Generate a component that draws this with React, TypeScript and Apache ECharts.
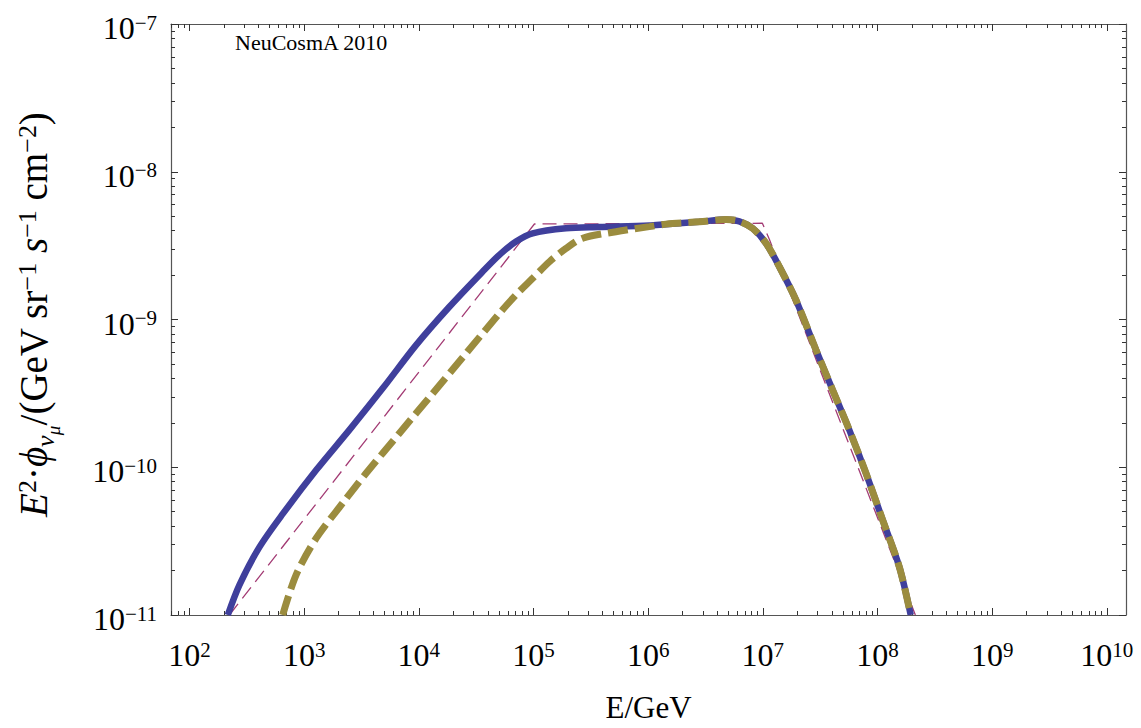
import React, { useEffect, useRef } from "react";
import * as echarts from "echarts";

// ---- data ----
const energyBlue = [215.8, 272.9, 407.4, 650.1, 1274, 2483, 4842, 9462, 18490, 36060, 50470, 70470, 98400, 192300, 375800, 1.023e6, 1.432e6, 2.793e6, 4.775e6, 6.237e6, 8.147e6, 1.067e7, 1.393e7, 1.945e7, 2.911e7, 4.064e7, 5.675e7, 7.943e7, 1.109e8, 1.549e8, 1.95e8];
const fluxBlue = [1.0e-11, 1.6e-11, 2.88e-11, 4.83e-11, 9.57e-11, 1.79e-10, 3.42e-10, 6.71e-10, 1.22e-9, 2.11e-9, 2.74e-9, 3.37e-9, 3.83e-9, 4.14e-9, 4.22e-9, 4.33e-9, 4.42e-9, 4.58e-9, 4.75e-9, 4.62e-9, 4.14e-9, 3.28e-9, 2.28e-9, 1.355e-9, 6.22e-10, 3.33e-10, 1.79e-10, 9.1e-11, 4.4e-11, 2.12e-11, 1.0e-11];

const energyOlive = [650.1, 851.1, 1274, 2173, 3467, 6776, 13210, 25820, 50470, 70470, 98400, 137700, 192300, 268500, 523600, 1.023e6, 1.432e6, 2.793e6, 4.775e6, 6.237e6, 8.147e6, 1.067e7, 1.393e7, 1.945e7, 2.911e7, 4.064e7, 5.675e7, 7.943e7, 1.109e8, 1.549e8, 1.95e8];
const fluxOlive = [1.0e-11, 1.87e-11, 3.31e-11, 5.73e-11, 9.1e-11, 1.7e-10, 3.16e-10, 5.9e-10, 1.1e-9, 1.47e-9, 1.9e-9, 2.46e-9, 3.03e-9, 3.55e-9, 3.93e-9, 4.25e-9, 4.42e-9, 4.58e-9, 4.75e-9, 4.62e-9, 4.14e-9, 3.28e-9, 2.28e-9, 1.355e-9, 6.22e-10, 3.33e-10, 1.79e-10, 9.1e-11, 4.4e-11, 2.12e-11, 1.0e-11];

const energyThin = [223, 1.019e5, 9.91e6, 1.14e7, 2.14e8];
const fluxThin = [1.0e-11, 4.43e-9, 4.48e-9, 3.49e-9, 1.0e-11];

const xTickExponents = [2, 3, 4, 5, 6, 7, 8, 9, 10];
const yTickExponents = [-11, -10, -9, -8, -7];

const X_MIN = 69;
const X_MAX = 1.47e10;
const Y_MIN = 1e-11;
const Y_MAX = 1e-7;

const FONT = "Liberation Serif";

const xMajor = xTickExponents.map((n) => Math.pow(10, n));
const yMajor = yTickExponents.map((n) => Math.pow(10, n));
const minorsBetween = (lo: number, hi: number, min: number, max: number) => {
  const out: number[] = [];
  for (let n = lo; n <= hi; n++) {
    for (let k = 2; k <= 9; k++) {
      const v = k * Math.pow(10, n);
      if (v > min && v < max) out.push(v);
    }
  }
  return out;
};
const xMinor = minorsBetween(1, 10, X_MIN, X_MAX);
const yMinor = minorsBetween(-12, -8, Y_MIN, Y_MAX);

const powLabel = (v: number) => {
  const n = Math.round(Math.log10(v));
  const s = n < 0 ? "\u2212" + -n : String(n);
  return `{m|10}{s|${s}}`;
};

const labelRich = {
  m: { fontFamily: FONT, fontSize: 32, lineHeight: 32, color: "#000" },
  s: { fontFamily: FONT, fontSize: 21, lineHeight: 21, verticalAlign: "top", color: "#000" },
};

const AXIS_COLOR = "#555";

function xAxisDef(position: "bottom" | "top", ticks: number[], len: number, withLine: boolean, withLabels: boolean, extra: any = {}) {
  return {
    type: "log",
    logBase: 10,
    min: X_MIN,
    max: X_MAX,
    position,
    axisLine: { show: withLine, onZero: false, lineStyle: { color: AXIS_COLOR, width: 1.2 } },
    axisTick: { show: true, inside: true, length: len, customValues: ticks, lineStyle: { color: "#333", width: 1 } },
    axisLabel: withLabels
      ? { show: true, customValues: ticks, formatter: powLabel, margin: 24, rich: labelRich, fontFamily: FONT, fontSize: 32, color: "#000" }
      : { show: false },
    splitLine: { show: false },
    minorTick: { show: false },
    ...extra,
  };
}

function yAxisDef(position: "left" | "right", ticks: number[], len: number, withLine: boolean, withLabels: boolean, extra: any = {}) {
  return {
    type: "log",
    logBase: 10,
    min: Y_MIN,
    max: Y_MAX,
    position,
    axisLine: { show: withLine, onZero: false, lineStyle: { color: AXIS_COLOR, width: 1.2 } },
    axisTick: { show: true, inside: true, length: len, customValues: ticks, lineStyle: { color: "#333", width: 1 } },
    axisLabel: withLabels
      ? { show: true, customValues: ticks, formatter: powLabel, margin: 14, padding: [8, 0, 0, 0], rich: labelRich, fontFamily: FONT, fontSize: 32, color: "#000" }
      : { show: false },
    splitLine: { show: false },
    minorTick: { show: false },
    ...extra,
  };
}

const pairs = (xs: number[], ys: number[]) => xs.map((x, i) => [x, ys[i]]);

export default function App() {
  const ref = useRef<HTMLDivElement>(null);
  useEffect(() => {
    if (!ref.current) return;
    const chart = echarts.init(ref.current, undefined, { renderer: "svg" });
    const titleRich: any = {
      r: { fontFamily: FONT, fontSize: 39, lineHeight: 39, verticalAlign: "top", color: "#000" },
      i: { fontFamily: FONT, fontSize: 39, lineHeight: 39, verticalAlign: "top", fontStyle: "italic", color: "#000" },
      sup: { fontFamily: FONT, fontSize: 26, lineHeight: 26, verticalAlign: "top", color: "#000" },
      sub: { fontFamily: FONT, fontSize: 26, lineHeight: 26, verticalAlign: "top", fontStyle: "italic", padding: [18, 0, 0, 0], color: "#000" },
      ss: { fontFamily: FONT, fontSize: 19, lineHeight: 19, verticalAlign: "top", fontStyle: "italic", padding: [30, 0, 0, 0], color: "#000" },
    };
    const option: any = {
      animation: false,
      backgroundColor: "#fff",
      grid: { left: 171, right: 15, top: 24, bottom: 113, containLabel: false, outerBoundsMode: "none" },
      xAxis: [
        xAxisDef("bottom", xMajor, 7, true, true, {
          name: "E/GeV",
          nameLocation: "middle",
          nameGap: 79,
          nameTextStyle: { fontFamily: FONT, fontSize: 31, lineHeight: 26, color: "#000" },
        }),
        xAxisDef("bottom", xMinor, 4, false, false),
        xAxisDef("top", xMajor, 7, true, false),
        xAxisDef("top", xMinor, 4, false, false),
      ],
      yAxis: [
        yAxisDef("left", yMajor, 7, true, true, {
          name: "{i|E}{sup|2}{r|\u00b7}{i|\u03d5}{sub|\u03bd}{ss|\u03bc}{r|/(GeV sr}{sup|\u22121}{r| }{i|s}{sup|\u22121}{r| cm}{sup|\u22122}{r|)}",
          nameLocation: "middle",
          nameRotate: 90,
          nameGap: 118,
          nameTextStyle: { fontFamily: FONT, fontSize: 39, color: "#000", rich: titleRich, padding: [0, 0, 0, 10] },
        }),
        yAxisDef("left", yMinor, 4, false, false),
        yAxisDef("right", yMajor, 7, true, false),
        yAxisDef("right", yMinor, 4, false, false),
      ],
      graphic: [
        {
          type: "text",
          x: 235,
          y: 42.5,
          style: { text: "NeuCosmA 2010", fontFamily: FONT, fontSize: 22, fill: "#000", align: "left", verticalAlign: "middle" },
        },
      ],
      series: [
        {
          name: "approx",
          type: "line",
          xAxisIndex: 0,
          yAxisIndex: 0,
          data: pairs(energyThin, fluxThin),
          showSymbol: false,
          symbol: "none",
          smooth: false,
          lineStyle: { color: "#a33b74", width: 1.3, type: [14, 7] },
          z: 2,
        },
        {
          name: "full",
          type: "line",
          xAxisIndex: 0,
          yAxisIndex: 0,
          data: pairs(energyBlue, fluxBlue),
          showSymbol: false,
          symbol: "none",
          smooth: 0.3,
          lineStyle: { color: "#3f3f9c", width: 6.5, cap: "butt" },
          z: 3,
        },
        {
          name: "delayed",
          type: "line",
          xAxisIndex: 0,
          yAxisIndex: 0,
          data: pairs(energyOlive, fluxOlive),
          showSymbol: false,
          symbol: "none",
          smooth: 0.3,
          lineStyle: { color: "#9b8c3e", width: 7, type: [20, 7], cap: "butt" },
          z: 4,
        },
      ],
    };
    chart.setOption(option);
    return () => chart.dispose();
  }, []);
  return (
    <div
      ref={ref}
      style={{ position: "fixed", left: 0, top: 0, width: 1141, height: 728, background: "#fff" }}
    />
  );
}
